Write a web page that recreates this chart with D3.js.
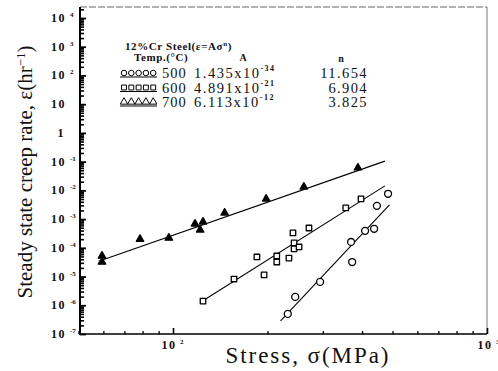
<!DOCTYPE html>
<html>
<head>
<meta charset="utf-8">
<script src="https://cdn.jsdelivr.net/npm/d3@7"></script>
<style>
  html, body { margin: 0; padding: 0; background: #fff; }
  svg { display: block; }
  text { font-family: "Liberation Serif", "DejaVu Serif", serif; fill: #111; }
</style>
</head>
<body>
<svg id="chart" width="498" height="371"></svg>
<script>
// 12%Cr steel: steady state creep rate vs stress at three temperatures
const temps = [500, 600, 700];
const coefA = [1.435e-34, 4.891e-21, 6.113e-12];
const coefAMant = ["1.435", "4.891", "6.113"];
const coefAExp = ["-34", "-21", "-12"];
const expN = [11.654, 6.904, 3.825];
const fitStressMin = [220, 122, 58];
const fitStressMax = [489, 473, 473];

// measured points, 500 °C (circles)
const stress500 = [232, 245, 294, 372, 369, 409, 437, 446, 484];
const rate500 = [5.0e-7, 1.95e-6, 6.5e-6, 3.2e-5, 1.6e-4, 3.9e-4, 4.6e-4, 2.9e-3, 7.6e-3];
// 600 °C (squares)
const stress600 = [124.6, 156.4, 185, 195, 214, 214, 234, 241, 243, 243, 252, 271, 355, 397];
const rate600 = [1.4e-6, 8.2e-6, 4.8e-5, 1.14e-5, 5.2e-5, 3.2e-5, 4.4e-5, 3.3e-4, 1.48e-4, 9.2e-5, 1.07e-4, 4.9e-4, 2.45e-3, 5.06e-3];
// 700 °C (filled triangles)
const stress700 = [59.4, 59.4, 78.5, 97, 117.5, 124.6, 122, 146, 198, 261, 388];
const rate700 = [5.2e-5, 3.2e-5, 2.0e-4, 2.2e-4, 6.8e-4, 8.0e-4, 4.2e-4, 1.64e-3, 5.06e-3, 1.32e-2, 6.1e-2];

const yExps = [4, 3, 2, 1, 0, -1, -2, -3, -4, -5, -6, -7];
const xExps = [2, 3];

const svg = d3.select("#chart");
const x = d3.scaleLog().domain([50, 1000]).range([78.5, 487]);
const y = d3.scaleLog().domain([1e-7, 1e4]).range([334, 18]);

const xLeft = 80, xRight = 487, yTop = 7, yBottom = 334;

// frame: dashed top, thin right side
svg.append("line").attr("x1", xLeft).attr("x2", xRight).attr("y1", yTop).attr("y2", yTop)
  .attr("stroke", "#666").attr("stroke-width", 1).attr("stroke-dasharray", "7,2");
svg.append("line").attr("x1", xRight).attr("x2", xRight).attr("y1", yTop).attr("y2", yBottom)
  .attr("stroke", "#777").attr("stroke-width", 1);

// minor ticks
const yMinor = [];
for (let k = -7; k < 4; k++) for (let m = 2; m <= 9; m++) yMinor.push(m * Math.pow(10, k));
for (let m = 2; m <= 9; m++) yMinor.push(m * 1e4);
const xMinor = [];
for (let m = 5; m <= 9; m++) xMinor.push(m * 10);
for (let m = 2; m <= 9; m++) xMinor.push(m * 100);

const yAxisG = svg.append("g").attr("transform", `translate(${xLeft},0)`);
yAxisG.append("g").call(d3.axisLeft(y).tickValues(yMinor.filter(v => y(v) > yTop)).tickSize(-4).tickFormat(""))
  .call(g => g.select(".domain").remove())
  .call(g => g.selectAll("line").attr("stroke-width", 1.6));
yAxisG.append("g").call(d3.axisLeft(y).tickValues(yExps.map(e => Math.pow(10, e))).tickSizeInner(-6).tickSizeOuter(0)
  .tickFormat(""))
  .call(g => g.select(".domain").remove())
  .call(g => g.selectAll("line").attr("stroke-width", 1.8));
svg.append("line").attr("x1", xLeft).attr("x2", xLeft).attr("y1", yTop).attr("y2", yBottom + 1)
  .attr("stroke", "#000").attr("stroke-width", 2);

// y tick labels
const yLab = svg.append("g");
yExps.forEach(e => {
  const t = yLab.append("text").attr("y", y(Math.pow(10, e)) + 4).attr("font-size", 12)
    .attr("font-weight", "bold").attr("letter-spacing", 1.5);
  if (e === 0) {
    t.attr("x", 65).attr("text-anchor", "end").text("1");
  } else {
    t.attr("x", 66).attr("text-anchor", "end").text("10");
    if (e !== 1) {
      yLab.append("text").attr("x", 70).attr("y", y(Math.pow(10, e)) - 1).attr("font-size", 7)
        .attr("font-weight", "bold").text(String(e));
    }
  }
});

const xAxisG = svg.append("g").attr("transform", `translate(0,${yBottom})`);
xAxisG.append("g").call(d3.axisBottom(x).tickValues(xMinor).tickSize(-3).tickFormat(""))
  .call(g => g.select(".domain").remove())
  .call(g => g.selectAll("line").attr("stroke-width", 1.3));
xAxisG.append("g").call(d3.axisBottom(x).tickValues(xExps.map(e => Math.pow(10, e))).tickSize(-6).tickFormat(""))
  .call(g => g.select(".domain").remove())
  .call(g => g.selectAll("line").attr("stroke-width", 1.6));
svg.append("line").attr("x1", xLeft - 1).attr("x2", xRight).attr("y1", yBottom).attr("y2", yBottom)
  .attr("stroke", "#000").attr("stroke-width", 1.5);

// x tick labels
xExps.forEach(e => {
  const px = x(Math.pow(10, e));
  const cx = e === 2 ? px - 4 : px - 2;
  svg.append("text").attr("x", cx).attr("y", 349).attr("text-anchor", "middle").attr("font-size", 12)
    .attr("font-weight", "bold").attr("letter-spacing", 1.5).text("10");
  svg.append("text").attr("x", cx + 11).attr("y", 344).attr("font-size", 7).attr("font-weight", "bold").text(String(e));
});

// axis titles
svg.append("text").attr("x", 307).attr("y", 363).attr("text-anchor", "middle").attr("font-size", 23)
  .attr("textLength", 163).attr("lengthAdjust", "spacing")
  .text("Stress, σ(MPa)");
svg.append("text").attr("transform", "translate(32,172) rotate(-90)").attr("text-anchor", "middle")
  .attr("font-size", 21)
  .html('Steady state creep rate, ε(hr<tspan dy="-7" font-size="13">−1</tspan><tspan dy="7">)</tspan>');

// fitted lines ε = A σ^n
const line = d3.line().x(d => x(d[0])).y(d => y(d[1]));
temps.forEach((t, i) => {
  const pts = [fitStressMin[i], fitStressMax[i]].map(s => [s, coefA[i] * Math.pow(s, expN[i])]);
  svg.append("path").attr("d", line(pts)).attr("fill", "none").attr("stroke", "#000").attr("stroke-width", 1.1);
});

// markers
const sym = [
  d3.symbol().type(d3.symbolCircle).size(38),
  d3.symbol().type(d3.symbolSquare).size(30),
  d3.symbol().type(d3.symbolTriangle).size(24)
];
const series = [
  { s: stress500, r: rate500, fill: "#fff" },
  { s: stress600, r: rate600, fill: "#fff" },
  { s: stress700, r: rate700, fill: "#000" }
];
series.forEach((ser, i) => {
  svg.append("g").selectAll("path").data(ser.s.map((v, j) => [v, ser.r[j]])).join("path")
    .attr("transform", d => `translate(${x(d[0])},${y(d[1])})`)
    .attr("d", sym[i]()).attr("fill", ser.fill).attr("stroke", "#000").attr("stroke-width", 1.3)
    .attr("stroke-linejoin", "round");
});

// legend
const lg = svg.append("g");
lg.append("text").attr("x", 125).attr("y", 50).attr("font-size", 11).attr("font-weight", "bold")
  .attr("letter-spacing", 0.6)
  .html('12%Cr  Steel(ε=Aσ<tspan dy="-4" font-size="7">n</tspan><tspan dy="4">)</tspan>');
lg.append("text").attr("x", 134).attr("y", 61).attr("font-size", 11).attr("font-weight", "bold")
  .attr("letter-spacing", 0.6).text("Temp.(°C)");
lg.append("text").attr("x", 243).attr("y", 61).attr("font-size", 10).attr("font-weight", "bold")
  .attr("text-anchor", "middle").text("A");
lg.append("text").attr("x", 341).attr("y", 62).attr("font-size", 10).attr("font-weight", "bold")
  .attr("text-anchor", "middle").text("n");
const rowY = [77, 91.5, 106];
temps.forEach((t, i) => {
  const ry = rowY[i];
  lg.append("line").attr("x1", 120).attr("x2", 157).attr("y1", ry).attr("y2", ry)
    .attr("stroke", "#000").attr("stroke-width", 1);
  for (let k = 0; k < 5; k++) {
    lg.append("path").attr("transform", `translate(${124 + k * 7.3},${ry - 4})`)
      .attr("d", d3.symbol().type([d3.symbolCircle, d3.symbolSquare, d3.symbolTriangle][i]).size(24)())
      .attr("fill", "none").attr("stroke", "#000").attr("stroke-width", 1);
  }
  lg.append("text").attr("x", 162).attr("y", ry + 1).attr("font-size", 14.5).attr("letter-spacing", 1).text(String(t));
  lg.append("text").attr("x", 194).attr("y", ry + 1).attr("font-size", 14.5).attr("letter-spacing", 1.5)
    .html(`${coefAMant[i]}x10<tspan dy="-7" font-size="8" font-weight="bold">${coefAExp[i]}</tspan>`);
  lg.append("text").attr("x", 368).attr("y", ry + 1).attr("font-size", 14.5).attr("letter-spacing", 1.4)
    .attr("text-anchor", "end").text(expN[i].toFixed(3));
});
</script>
</body>
</html>
